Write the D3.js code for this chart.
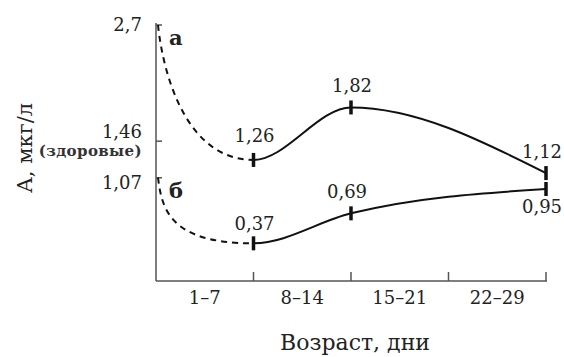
<!DOCTYPE html>
<html>
	<head>
		<meta charset="utf-8">
		<script src="https://d3js.org/d3.v7.min.js"></script>
		<style>
			body { margin: 0; background: #fff; }
			text {
			  font-family: "DejaVu Serif", "Liberation Serif", serif;
			  fill: #222;
			}
			.curve { fill: none; stroke: #111; stroke-width: 2; }
		</style>
	</head>
	<body>
		<svg width="564" height="357"></svg>

		<script type="text/javascript">
			// data
			var periods = ["1–7", "8–14", "15–21", "22–29"];
			var weekPos = [0, 1, 2, 4];
			var seriesA = [2.7, 1.26, 1.82, 1.12];
			var seriesB = [1.07, 0.37, 0.69, 0.95];
			var seriesNames = ["а", "б"];
			var yTicks = [2.7, 1.46, 1.07];
			var yTickLabels = ["2,7", "1,46", "1,07"];
			var healthyNote = "(здоровые)";

			var svg = d3.select("svg");
			var plotLeft = 156, plotRight = 546, plotTop = 25, plotBottom = 281;

			var x = d3.scaleLinear().domain([0, 4]).range([plotLeft, plotRight]);
			var y = d3.scaleLinear().domain([0, 2.7]).range([278, plotTop]);

			var ruLocale = d3.formatLocale({decimal: ",", thousands: " ", grouping: [3], currency: ["", ""]});
			var fmt = ruLocale.format(".2f");

			// axes
			svg.append("line")
			  .attr("x1", plotLeft).attr("x2", plotLeft).attr("y1", plotTop - 2).attr("y2", plotBottom)
			  .style("stroke", "#555").style("stroke-width", 1.5);
			svg.append("line")
			  .attr("x1", plotLeft).attr("x2", plotRight + 1).attr("y1", plotBottom).attr("y2", plotBottom)
			  .style("stroke", "#555").style("stroke-width", 1.5);

			svg.selectAll(".xtick").data([1, 2, 3, 4]).enter()
			  .append("line")
			  .attr("x1", function(d) { return x(d); })
			  .attr("x2", function(d) { return x(d); })
			  .attr("y1", plotBottom).attr("y2", plotBottom - 9)
			  .style("stroke", "#555").style("stroke-width", 1.5);

			svg.selectAll(".xlab").data(periods).enter()
			  .append("text")
			  .attr("x", function(d, i) { return x(i + 0.5); })
			  .attr("y", 304)
			  .attr("text-anchor", "middle")
			  .style("font-size", "18px")
			  .text(function(d) { return d; });

			svg.selectAll(".ytick").data(yTicks).enter()
			  .append("line")
			  .attr("x1", plotLeft).attr("x2", plotLeft + 6)
			  .attr("y1", function(d) { return y(d); })
			  .attr("y2", function(d) { return y(d); })
			  .style("stroke", "#555").style("stroke-width", 1.5);

			var yLabelDy = [6, -3, 11];
			svg.selectAll(".ylab").data(yTicks).enter()
			  .append("text")
			  .attr("x", 142)
			  .attr("y", function(d, i) { return y(d) + yLabelDy[i]; })
			  .attr("text-anchor", "end")
			  .style("font-size", "18px")
			  .text(function(d, i) { return yTickLabels[i]; });

			svg.append("text")
			  .attr("x", 142).attr("y", y(1.46) + 15)
			  .attr("text-anchor", "end")
			  .style("font-size", "15px")
			  .style("font-weight", "bold")
			  .style("letter-spacing", "0.4px")
			  .style("fill", "#333")
			  .text(healthyNote);

			svg.append("text")
			  .attr("transform", "translate(32,148) rotate(-90)")
			  .attr("text-anchor", "middle")
			  .style("font-size", "21px")
			  .text("А, мкг/л");

			svg.append("text")
			  .attr("x", 355).attr("y", 350)
			  .attr("text-anchor", "middle")
			  .style("font-size", "22px")
			  .text("Возраст, дни");

			// curves: dashed before week 1, solid after
			var defs = svg.append("defs");
			defs.append("clipPath").attr("id", "clipSolid")
			  .append("rect").attr("x", x(1)).attr("y", 0).attr("width", 564 - x(1)).attr("height", 357);

			var line = d3.line()
			  .x(function(d) { return x(d[0]); })
			  .y(function(d) { return y(d[1]); })
			  .curve(d3.curveMonotoneX);

			var series = [seriesA, seriesB].map(function(vals) {
			  return weekPos.map(function(p, i) { return [p, vals[i]]; });
			});

			// fast drop then flattening for the first week
			var dropShape = [[0.05, 0.35, 0.3], [0.04, 0.45, 0.12]];
			series.forEach(function(pts, s) {
			  var x0 = x(pts[0][0]), y0 = y(pts[0][1]);
			  var x1 = x(pts[1][0]), y1 = y(pts[1][1]);
			  var dx = x1 - x0, dy = y1 - y0, k = dropShape[s];
			  var p = d3.path();
			  p.moveTo(x0 + 2, y0);
			  p.bezierCurveTo(x0 + 2 + k[0] * dx, y0 + k[1] * dy, x0 + k[2] * dx, y1, x1, y1);
			  svg.append("path").attr("class", "curve")
			    .attr("d", p.toString())
			    .style("stroke-dasharray", "6,5");
			  svg.append("path").attr("class", "curve")
			    .attr("d", line(pts))
			    .attr("clip-path", "url(#clipSolid)");
			});

			// point marks and value labels
			var labelDy = [[0, -18, -15, -15], [0, -13, -15, 24]];
			series.forEach(function(pts, s) {
			  pts.slice(1).forEach(function(d, j) {
			    var i = j + 1;
			    svg.append("line")
			      .attr("x1", x(d[0])).attr("x2", x(d[0]))
			      .attr("y1", y(d[1]) - 7).attr("y2", y(d[1]) + 7)
			      .style("stroke", "#111").style("stroke-width", 3.5);
			    svg.append("text")
			      .attr("x", x(d[0]) + (i === 3 ? -4 : (s === 1 && i === 2 ? -4 : 1)))
			      .attr("y", y(d[1]) + labelDy[s][i])
			      .attr("text-anchor", "middle")
			      .style("font-size", "18px")
			      .text(fmt(d[1]));
			  });
			});

			// series names
			svg.selectAll(".sname").data(seriesNames).enter()
			  .append("text")
			  .attr("x", 169)
			  .attr("y", function(d, i) { return y([seriesA, seriesB][i][0]) + 20; })
			  .style("font-size", "21px")
			  .style("font-weight", "bold")
			  .text(function(d) { return d; });
		</script>
	</body>
</html>
